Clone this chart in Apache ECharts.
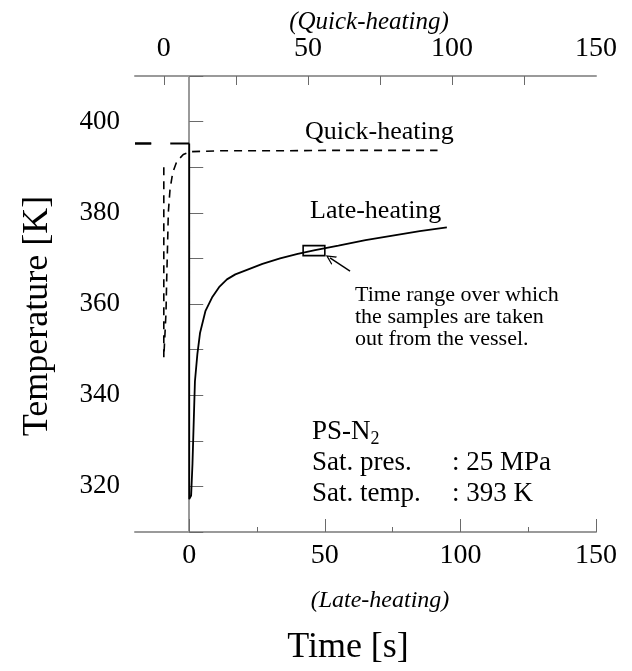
<!DOCTYPE html>
<html>
<head>
<meta charset="utf-8">
<script src="https://cdn.jsdelivr.net/npm/echarts@6/dist/echarts.min.js"></script>
<style>
  html, body { margin: 0; padding: 0; background: #fff; }
  #chart { width: 632px; height: 671px; }
</style>
</head>
<body>
<div id="chart"></div>
<script>
// Temperature histories of the PS-N2 vessel: late heating (bottom time axis, solid)
// and quick heating (top time axis, dashed).

// Late-heating: held temperature before t = 0 (drawn as two short pieces)
const lateHoldA = [[-20, 395.2], [-14, 395.2]];
const lateHoldB = [[-7, 395.2], [0, 395.2]];
// Late-heating: drop at t = 0 and slow recovery
const lateTime = [0, 0, 0.7, 1.2, 2.1, 3, 4, 6, 8.4, 11, 13.9, 17, 21.3, 27, 33.5, 40, 46.4, 55, 65, 75, 85, 95];
const lateTemp = [395.2, 317.2, 318, 325, 343, 349, 353.7, 358.5, 361.4, 363.7, 365.4, 366.5, 367.5, 368.8, 370, 371, 371.8, 372.8, 374, 375, 376, 376.8];

// Quick-heating: held temperature before t = 0
const quickHold = [[-10, 395.2], [-4.4, 395.2]];
// Quick-heating: drop at t = 0 and fast recovery
const quickTime = [0, 0, 0.41, 0.76, 1.0, 1.35, 1.56, 2.15, 3.09, 4.47, 6.76, 9.1, 20, 40, 60, 80, 95];
const quickTemp = [390, 348.3, 348.5, 358.1, 365.4, 374.1, 380.0, 385.1, 388.8, 391.2, 392.8, 393.4, 393.6, 393.6, 393.7, 393.7, 393.7];

// Sampling window on the late-heating curve
const sampleTime = [42, 50];
const sampleTemp = [370.6, 372.8];
// Arrow pointing at the sampling window: [tail, head]
const arrowTime = [59.3, 51.9];
const arrowTemp = [367.2, 370.1];

// Tick positions
const bottomMajor = [0, 50, 100, 150];
const bottomMinor = [25, 75, 125];
const topLabels = [0, 50, 100, 150];
const topTicks = [0, 25, 50, 75, 100, 125];

const zip = (xs, ys) => xs.map((x, i) => [x, ys[i]]);

const SERIF = '"Liberation Serif", "DejaVu Serif", "Times New Roman", serif';
const FRAME = '#9a9a9a';
const TICK = '#6a6a6a';
const ARROW_HEAD = 'path://M0,10 L5,0 L10,10 L8.6,10 L5,2.8 L1.4,10 Z';

const chart = echarts.init(document.getElementById('chart'), null, { renderer: 'canvas' });

chart.setOption({
  animation: false,
  backgroundColor: '#ffffff',
  grid: { left: 135, right: 36, top: 76, bottom: 139, containLabel: false },
  xAxis: [
    {
      type: 'value', position: 'bottom', min: -20, max: 150,
      axisLine: { show: true, lineStyle: { color: FRAME, width: 2 } },
      axisTick: { show: true, inside: true, length: 13, customValues: bottomMajor, lineStyle: { color: TICK, width: 1 } },
      axisLabel: { customValues: bottomMajor, margin: 10, fontFamily: SERIF, fontSize: 28, color: '#000' },
      splitLine: { show: false }
    },
    {
      type: 'value', position: 'bottom', min: -20, max: 150,
      axisLine: { show: false },
      axisTick: { show: true, inside: true, length: 5, customValues: bottomMinor, lineStyle: { color: TICK, width: 1 } },
      axisLabel: { show: false },
      splitLine: { show: false }
    },
    {
      type: 'value', position: 'top', min: -10, max: 150,
      axisLine: { show: true, lineStyle: { color: FRAME, width: 2 } },
      axisTick: { show: true, inside: true, length: 9, customValues: topTicks, lineStyle: { color: TICK, width: 1 } },
      axisLabel: { customValues: topLabels, margin: 13, fontFamily: SERIF, fontSize: 28, color: '#000' },
      splitLine: { show: false }
    }
  ],
  yAxis: [
    {
      type: 'value', position: 'left', min: 310, max: 410, interval: 10,
      axisLine: { show: true, lineStyle: { color: FRAME, width: 2 } },
      axisTick: { show: true, inside: true, length: 14, lineStyle: { color: TICK, width: 1 } },
      axisLabel: {
        margin: 15, fontFamily: SERIF, fontSize: 27, color: '#000',
        formatter: v => (v % 20 === 0 && v < 410 && v > 310) ? String(v) : ''
      },
      splitLine: { show: false }
    },
    {
      type: 'value', position: 'right', min: 310, max: 410,
      axisLine: { show: true, lineStyle: { color: FRAME, width: 2 } },
      axisTick: { show: false }, axisLabel: { show: false }, splitLine: { show: false }
    }
  ],
  series: [
    {
      name: 'Late-heating hold', type: 'line', xAxisIndex: 0, yAxisIndex: 0,
      data: lateHoldA, showSymbol: false, lineStyle: { color: '#000', width: 2 }
    },
    {
      name: 'Late-heating hold', type: 'line', xAxisIndex: 0, yAxisIndex: 0,
      data: lateHoldB, showSymbol: false, lineStyle: { color: '#000', width: 2 }
    },
    {
      name: 'Quick-heating hold', type: 'line', xAxisIndex: 2, yAxisIndex: 0,
      data: quickHold, showSymbol: false, lineStyle: { color: '#000', width: 2 }
    },
    {
      name: 'Quick-heating', type: 'line', xAxisIndex: 2, yAxisIndex: 0,
      data: zip(quickTime, quickTemp), showSymbol: false, smooth: false,
      lineStyle: { color: '#000', width: 1.6, type: [8, 6] }
    },
    {
      name: 'Late-heating', type: 'line', xAxisIndex: 0, yAxisIndex: 0,
      data: zip(lateTime, lateTemp), showSymbol: false, smooth: false,
      lineStyle: { color: '#000', width: 1.8 },
      markArea: {
        silent: true,
        itemStyle: { color: 'rgba(0,0,0,0)', borderColor: '#000', borderWidth: 1.6 },
        data: [[{ coord: [sampleTime[0], sampleTemp[0]] }, { coord: [sampleTime[1], sampleTemp[1]] }]]
      },
      markLine: {
        silent: true, symbol: ['none', ARROW_HEAD], symbolSize: [10, 10],
        lineStyle: { color: '#000', width: 1.4, type: 'solid' },
        itemStyle: { color: '#000' },
        label: { show: false },
        data: [[{ coord: [arrowTime[0], arrowTemp[0]] }, { coord: [arrowTime[1], arrowTemp[1]] }]]
      }
    }
  ],
  graphic: [
    { type: 'text', x: 369, y: 22, style: { text: '(Quick-heating)', font: 'italic 25px ' + SERIF, fill: '#000', align: 'center', verticalAlign: 'middle' } },
    { type: 'text', x: 380, y: 601, style: { text: '(Late-heating)', font: 'italic 24px ' + SERIF, fill: '#000', align: 'center', verticalAlign: 'middle' } },
    { type: 'text', x: 348, y: 648, style: { text: 'Time [s]', font: '36px ' + SERIF, fill: '#000', align: 'center', verticalAlign: 'middle' } },
    { type: 'text', x: 38, y: 316, rotation: Math.PI / 2, style: { text: 'Temperature [K]', font: '36px ' + SERIF, fill: '#000', align: 'center', verticalAlign: 'middle' } },
    { type: 'text', x: 305, y: 132, style: { text: 'Quick-heating', font: '26px ' + SERIF, fill: '#000', verticalAlign: 'middle' } },
    { type: 'text', x: 310, y: 211, style: { text: 'Late-heating', font: '26px ' + SERIF, fill: '#000', verticalAlign: 'middle' } },
    { type: 'text', x: 355, y: 284, style: {
        text: 'Time range over which\nthe samples are taken\nout from the vessel.',
        font: '22px ' + SERIF, lineHeight: 22, fill: '#000', verticalAlign: 'top' } },
    { type: 'text', x: 312, y: 416, style: {
        text: '{m|PS-N}{s|2}\n{l|Sat. pres.}{m|: 25 MPa}\n{l|Sat. temp.}{m|: 393 K}',
        rich: {
          m: { fontFamily: SERIF, fontSize: 27, lineHeight: 31, fill: '#000' },
          l: { fontFamily: SERIF, fontSize: 27, lineHeight: 31, width: 140, fill: '#000' },
          s: { fontFamily: SERIF, fontSize: 18, lineHeight: 31, padding: [16, 0, 0, 0], fill: '#000' }
        } } }
  ]
});
</script>
</body>
</html>
